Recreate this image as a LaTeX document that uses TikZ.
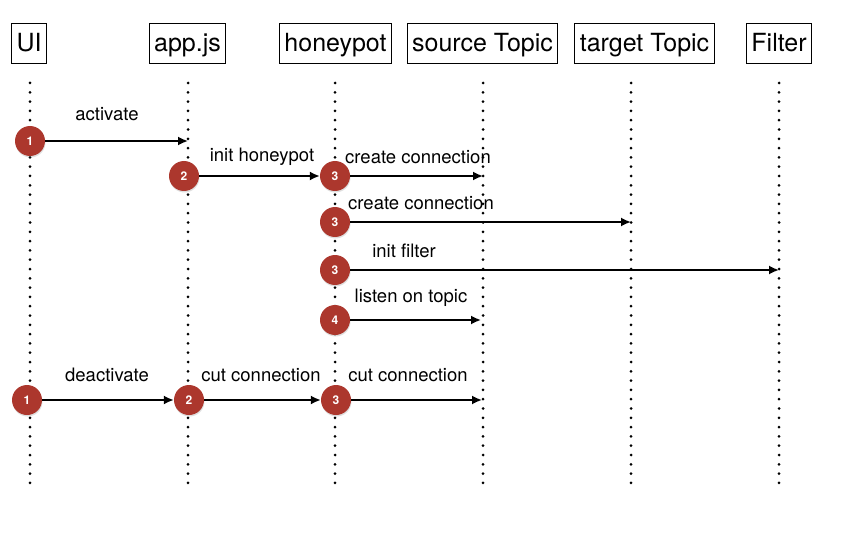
\documentclass[tikz,border=0pt]{standalone}
\usepackage{fontspec}
\setmainfont{TeX Gyre Heros}
\usetikzlibrary{arrows.meta,positioning,shadows}
\definecolor{stepred}{RGB}{172,55,45}
\begin{document}
\begin{tikzpicture}
  [x=1pt,y=-1pt,
    actor/.style={draw,line width=0.9pt,minimum height=40pt,inner xsep=5pt,
      text height=21pt,text depth=4pt,font=\fontsize{25}{30}\selectfont},
    lifeline/.style={line width=3pt,line cap=round,dash pattern=on 0pt off 9.3pt},
    num/.style={circle,fill=stepred,minimum size=30pt,inner sep=0pt,text=white,
      font=\fontsize{12}{14}\selectfont\bfseries,
      drop shadow={opacity=0.25,shadow xshift=0.5pt,shadow yshift=-1.5pt}},
    msg/.style={-{Latex[length=10pt,width=9pt]},line width=1.8pt},
    lbl/.style={font=\fontsize{18.5}{22}\selectfont}]
  \useasboundingbox (0,0) rectangle (842,537);
  % actors
  \node[actor] (ui)  at (29,43)    {UI};
  \node[actor] (app) at (187.5,43) {app.js};
  \node[actor] (hp)  at (335.5,43) {honeypot};
  \node[actor] (src) at (482.5,43) {source Topic};
  \node[actor] (tgt) at (644.5,43) {target Topic};
  \node[actor] (flt) at (779,43)   {Filter};
  % lifelines
  \foreach \name/\x in {ui/30,app/188,hp/335,src/483,tgt/631,flt/779} {
    \coordinate (\name top) at (\x,83);
    \coordinate (\name bot) at (\x,488);
    \draw[lifeline] (\name top) -- (\name bot);
  }
  % activate
  \node[num] (a1) at (30,141) {1};
  \coordinate (e1) at (188,141);
  \draw[msg] (a1) -- (e1);
  \node[lbl] (t1) at (107,114) {activate};
  \node[num] (a2) at (184,176) {2};
  \node[num] (a3) at (335,176) {3};
  \draw[msg] (a2) -- (a3);
  \node[lbl] (t2) at (262,157) {init honeypot};
  \coordinate (e3) at (483,176);
  \draw[msg] (a3) -- (e3);
  \node[lbl] (t3) at (418,157) {create connection};
  \node[num] (b3) at (335,222) {3};
  \coordinate (e4) at (631,222);
  \draw[msg] (b3) -- (e4);
  \node[lbl] (t4) at (421,203) {create connection};
  \node[num] (c3) at (335,270) {3};
  \coordinate (e5) at (779,270);
  \draw[msg] (c3) -- (e5);
  \node[lbl] (t5) at (404,251) {init filter};
  \node[num] (a4) at (335,320) {4};
  \coordinate (e6) at (481,320);
  \draw[msg] (a4) -- (e6);
  \node[lbl] (t6) at (411,298) {listen on topic};
  % deactivate
  \node[num] (d1) at (27,400) {1};
  \node[num] (d2) at (189,400) {2};
  \node[num] (d3) at (336,400) {3};
  \coordinate (e7) at (482,400);
  \draw[msg] (d1) -- (d2);
  \draw[msg] (d2) -- (d3);
  \draw[msg] (d3) -- (e7);
  \node[lbl] (t7) at (107,375) {deactivate};
  \node[lbl] (t8) at (261,375) {cut connection};
  \node[lbl] (t9) at (408,375) {cut connection};
\end{tikzpicture}
\end{document}
